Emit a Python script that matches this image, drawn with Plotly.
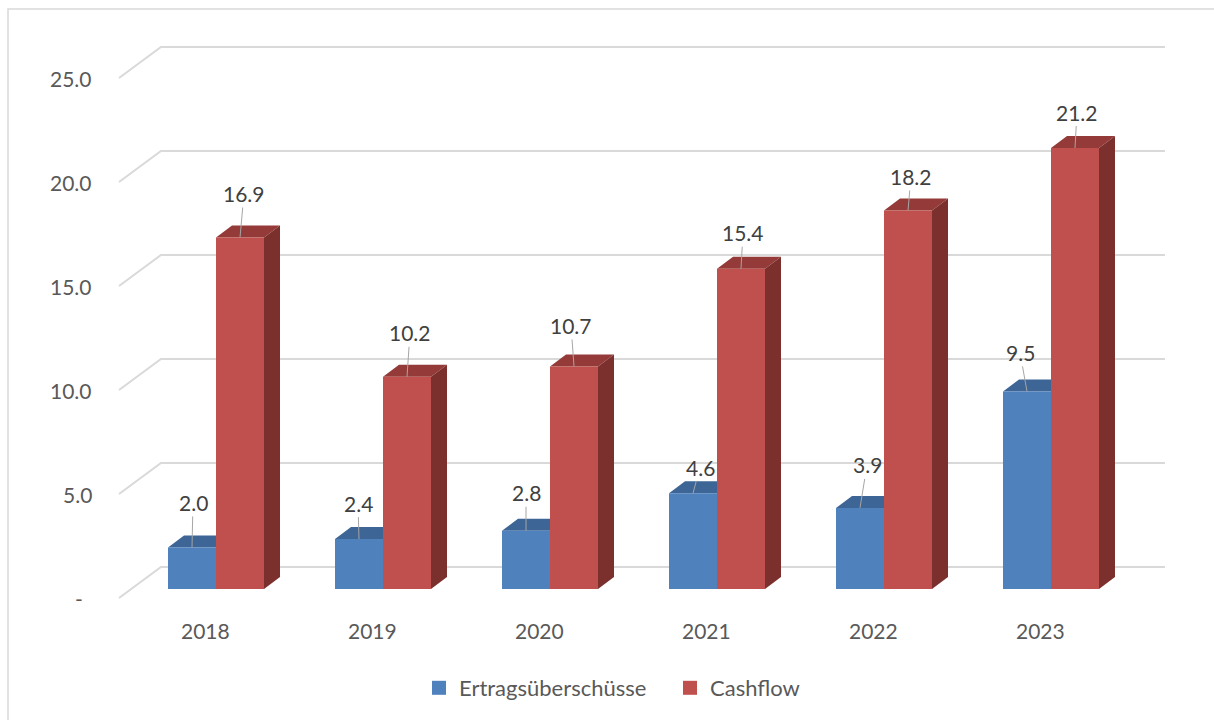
import plotly.graph_objects as go

# ---- data ----
years = ["2018", "2019", "2020", "2021", "2022", "2023"]
ertrag = [2.0, 2.4, 2.8, 4.6, 3.9, 9.5]
cashflow = [16.9, 10.2, 10.7, 15.4, 18.2, 21.2]
tick_vals = [0, 5, 10, 15, 20, 25]
tick_text = ["-", "5.0", "10.0", "15.0", "20.0", "25.0"]
series_names = ["Ertragsüberschüsse", "Cashflow"]

# ---- style ----
W, H = 1214, 720
PX_X = 167.0      # pixels per category
PX_Y = 20.8       # pixels per value unit
X0PX, Y0PX = 216.0, 589.0   # pixel of first group center / bar baseline
BW = 48 / PX_X
DDX, DDY = 16 / PX_X, 12 / PX_Y           # bar depth
FRONT_X, BACK_X0, BACK_X1 = (119 - X0PX) / PX_X, (161 - X0PX) / PX_X, (1165 - X0PX) / PX_X
FRONT_DY, BACK_DY = (Y0PX - 598) / PX_Y, (Y0PX - 567) / PX_Y

BLUE, BLUE_TOP = "#4f81bd", "#3d6595"
RED, RED_TOP, RED_SIDE = "#c0504d", "#943b39", "#7c302e"
GRID = "#d9d9d9"
FONT = "Lato"
TXT = "#595959"
LBL = "#404040"

# label offsets (pixels) for data labels
blue_off = [(1, -45), (-1, -36), (0, -38), (7, -26), (7, -43), (-7, -39)]
red_off = [(4, -44), (3, -44), (-3, -41), (2, -36), (3, -34), (2, -36)]

fig = go.Figure()

# gridlines (back wall + left diagonal)
gx, gy = [], []
for v in tick_vals:
    gx += [FRONT_X, BACK_X0, BACK_X1, None]
    gy += [v + FRONT_DY, v + BACK_DY, v + BACK_DY, None]
fig.add_trace(go.Scatter(x=gx, y=gy, mode="lines", line=dict(color=GRID, width=2),
                         showlegend=False, hoverinfo="skip"))

def poly_trace(polys, color):
    xs, ys = [], []
    for p in polys:
        for (a, b) in p:
            xs.append(a); ys.append(b)
        xs.append(p[0][0]); ys.append(p[0][1])
        xs.append(None); ys.append(None)
    return go.Scatter(x=xs, y=ys, mode="lines", fill="toself", fillcolor=color,
                      line=dict(width=0, color=color), showlegend=False, hoverinfo="skip")

blue_top, blue_front, red_top, red_side, red_front = [], [], [], [], []
for i, (b, r) in enumerate(zip(ertrag, cashflow)):
    bx0, bx1 = i - BW, i
    rx0, rx1 = i, i + BW
    blue_top.append([(bx0, b), (bx1, b), (bx1 + DDX, b + DDY), (bx0 + DDX, b + DDY)])
    blue_front.append([(bx0, 0), (bx1, 0), (bx1, b), (bx0, b)])
    red_top.append([(rx0, r), (rx1, r), (rx1 + DDX, r + DDY), (rx0 + DDX, r + DDY)])
    red_side.append([(rx1, 0), (rx1, r), (rx1 + DDX, r + DDY), (rx1 + DDX, DDY)])
    red_front.append([(rx0, 0), (rx1, 0), (rx1, r), (rx0, r)])

fig.add_trace(poly_trace(blue_top, BLUE_TOP))
fig.add_trace(poly_trace(blue_front, BLUE))
fig.add_trace(poly_trace(red_top, RED_TOP))
fig.add_trace(poly_trace(red_side, RED_SIDE))
fig.add_trace(poly_trace(red_front, RED))

# legend entries
for name, col in zip(series_names, [BLUE, RED]):
    fig.add_trace(go.Scatter(x=[-100], y=[-100], mode="markers", name=name,
                             marker=dict(symbol="square", size=14, color=col), hoverinfo="skip"))

ann = []
# data labels with leader lines
for i, (b, r) in enumerate(zip(ertrag, cashflow)):
    for val, xc, off in [(b, i - BW / 2, blue_off[i]), (r, i + BW / 2, red_off[i])]:
        ann.append(dict(x=xc, y=val, xref="x", yref="y", text=f"{val:.1f}",
                        showarrow=True, arrowhead=0, arrowwidth=1, arrowcolor="#a6a6a6",
                        ax=off[0], ay=off[1], standoff=0,
                        font=dict(family=FONT, size=21, color=LBL)))
# y tick labels
for v, t in zip(tick_vals, tick_text):
    if t == "-":
        ann.append(dict(x=(79 - X0PX) / PX_X, y=v + FRONT_DY, xref="x", yref="y", text=t,
                        showarrow=False, xanchor="center", yanchor="middle",
                        font=dict(family=FONT, size=21, color=TXT)))
    else:
        ann.append(dict(x=(94 - X0PX) / PX_X, y=v + FRONT_DY, xref="x", yref="y", text=t,
                        showarrow=False, xanchor="right", yanchor="middle",
                        font=dict(family=FONT, size=21, color=TXT)))
# category labels
for i, yr in enumerate(years):
    ann.append(dict(x=i - 11 / PX_X, y=(Y0PX - 630) / PX_Y, xref="x", yref="y", text=yr,
                    showarrow=False, xanchor="center", yanchor="middle",
                    font=dict(family=FONT, size=21, color=TXT)))

fig.update_layout(
    width=W, height=H,
    margin=dict(l=0, r=0, t=0, b=0),
    paper_bgcolor="white", plot_bgcolor="white",
    xaxis=dict(visible=False, range=[(0 - X0PX) / PX_X, (W - X0PX) / PX_X], fixedrange=True),
    yaxis=dict(visible=False, range=[(Y0PX - H) / PX_Y, Y0PX / PX_Y], fixedrange=True),
    annotations=ann,
    showlegend=True,
    legend=dict(orientation="h", x=419 / W, y=1 - 688 / H, xanchor="left", yanchor="middle",
                entrywidth=206, entrywidthmode="pixels",
                font=dict(family=FONT, size=22, color=TXT), bgcolor="rgba(0,0,0,0)"),
    shapes=[dict(type="rect", xref="paper", yref="paper", x0=8 / W, x1=1.01, y0=-0.01, y1=1 - 9 / H,
                 line=dict(color=GRID, width=1.5), fillcolor="rgba(0,0,0,0)", layer="below")],
)

fig.write_html("out.html")
